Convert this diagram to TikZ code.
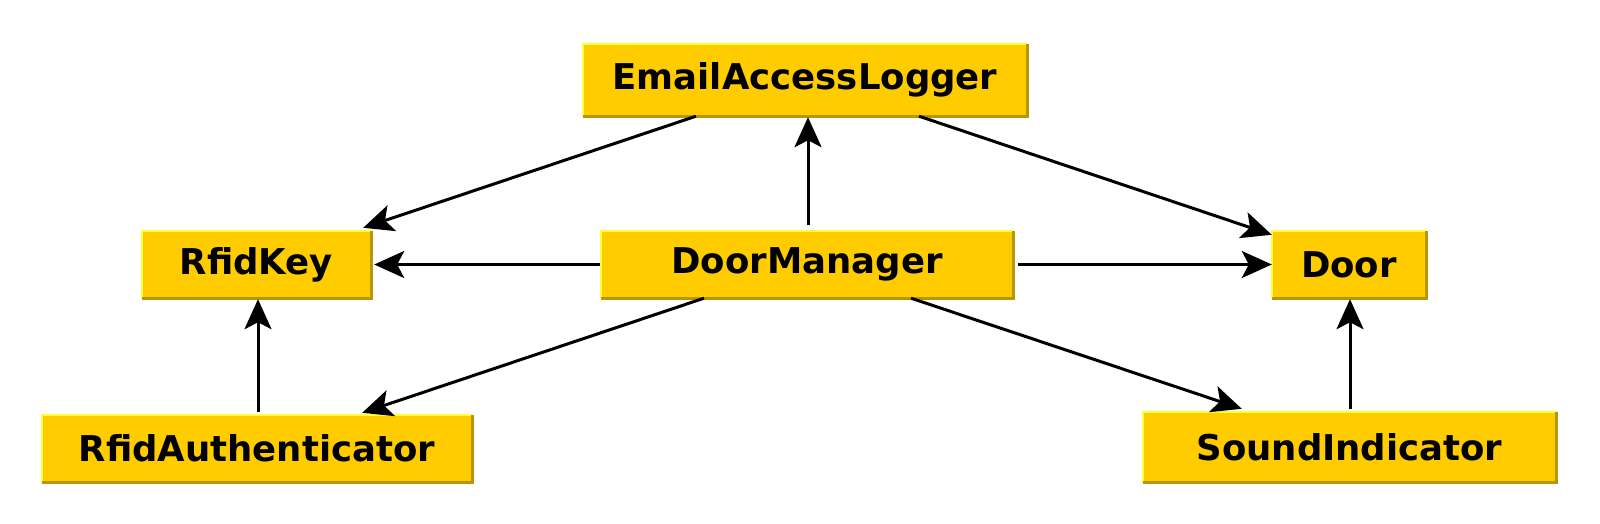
\documentclass[tikz,border=0pt]{standalone}
\usepackage{fontspec}
\setmainfont{DejaVu Sans}
\usetikzlibrary{arrows.meta,calc}
\definecolor{boxfill}{HTML}{FFCC00}
\definecolor{boxlight}{HTML}{FFFF33}
\definecolor{boxdark}{HTML}{B8960A}
\tikzset{
  cls/.style={fill=boxfill, inner sep=0pt, font=\fontsize{35.5}{42}\selectfont\bfseries, text=black},
  dep/.style={line width=3pt, -{Stealth[length=30pt,width=27pt,inset=7pt]}},
}
\newcommand{\bevel}[1]{%
  \draw[boxlight, line width=2.5pt] (#1.south west) -- (#1.north west) -- (#1.north east);
  \draw[boxdark, line width=3pt] (#1.north east) -- (#1.south east) -- (#1.south west);
}
\begin{document}
\begin{tikzpicture}[x=1pt,y=-1pt]
\useasboundingbox[fill=white] (0,0) rectangle (1600,523);
\node[cls, minimum width=444pt, minimum height=72pt] (eal) at (805,80) {EmailAccessLogger};
\node[cls, minimum width=229pt, minimum height=67pt] (rk) at (256.5,264.5) {RfidKey};
\node[cls, minimum width=154pt, minimum height=67pt] (door) at (1349,264.5) {Door};
\node[cls, minimum width=412pt, minimum height=67pt] (dm) at (807,264.5) {DoorManager};
\node[cls, minimum width=430pt, minimum height=67pt] (ra) at (257,448.5) {RfidAuthenticator};
\node[cls, minimum width=413pt, minimum height=70pt] (si) at (1349.5,447) {SoundIndicator};
\bevel{eal}\bevel{rk}\bevel{door}\bevel{dm}\bevel{ra}\bevel{si}

\draw[dep] ($(eal.south)+(-109,0)$) -- ($(rk.north east)+(-8,-3)$);
\draw[dep] ($(dm.north)+(1,-6)$) -- ($(eal.south)+(3,1)$);
\draw[dep] ($(eal.south)+(114,0)$) -- ($(door.north west)+(0,4)$);
\draw[dep] ($(dm.west)+(-1,0)$) -- ($(rk.east)+(3,0)$);
\draw[dep] ($(dm.east)+(5,0)$) -- ($(door.west)+(0,0)$);
\draw[dep] ($(dm.south)+(-103,0)$) -- ($(ra.north east)+(-110,-2)$);
\draw[dep] ($(dm.south)+(104,0)$) -- ($(si.north west)+(99,-3)$);
\draw[dep] ($(ra.north)+(1,-3)$) -- ($(rk.south)+(1.5,1)$);
\draw[dep] ($(si.north)+(0.5,-3)$) -- ($(door.south)+(1,1)$);
\end{tikzpicture}
\end{document}
